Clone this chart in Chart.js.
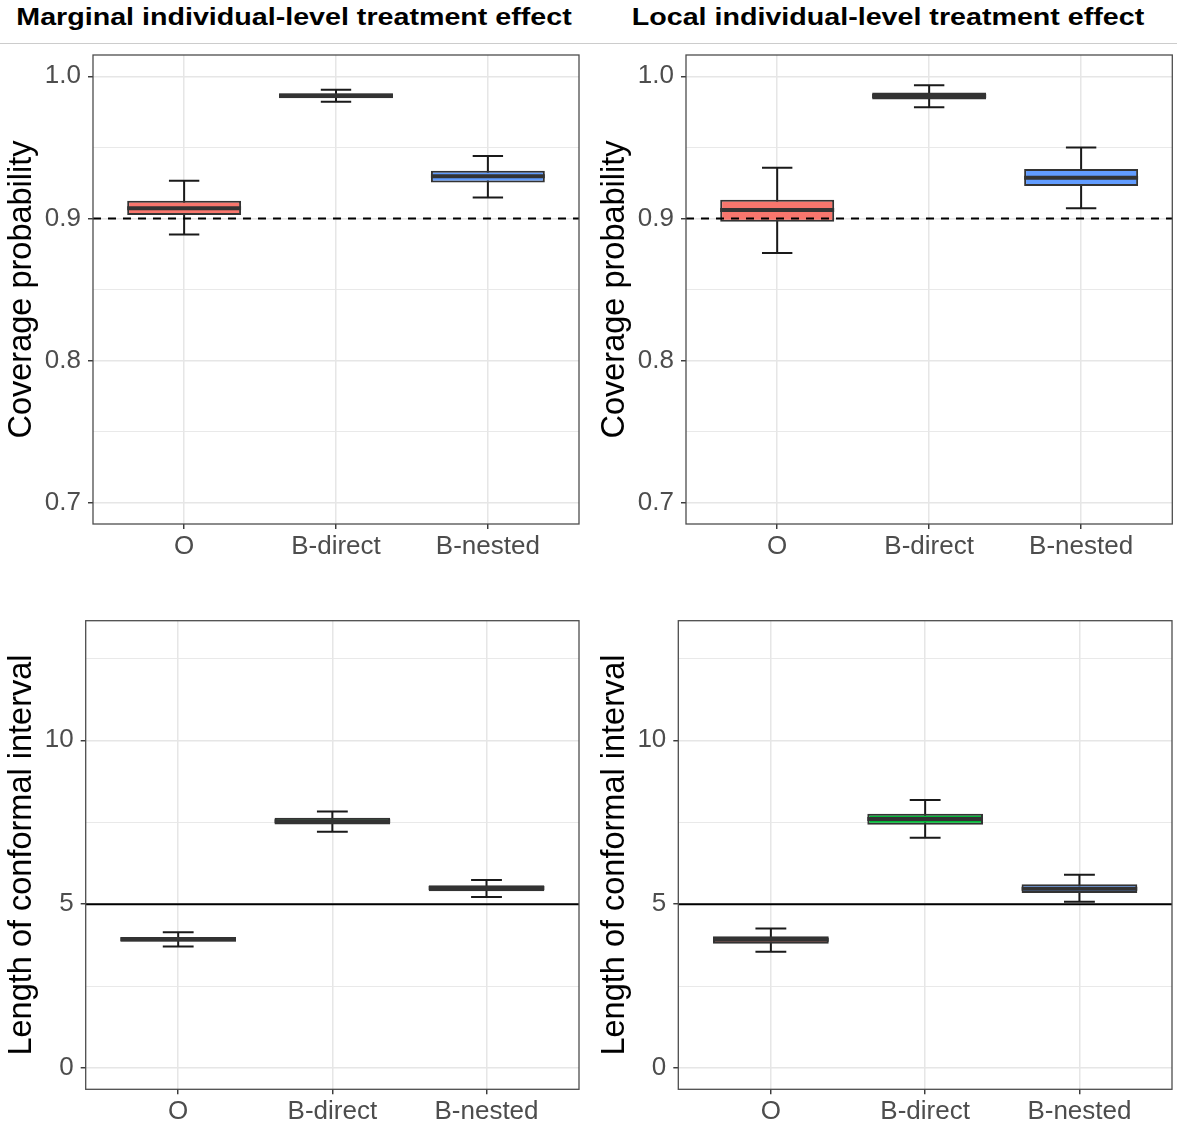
<!DOCTYPE html>
<html>
<head>
<meta charset="utf-8">
<script src="https://cdn.jsdelivr.net/npm/chart.js@4.4.1/dist/chart.umd.min.js"></script>
<style>
  body { margin: 0; background: #fff; width: 1177px; height: 1129px; position: relative; overflow: hidden;
         font-family: "Liberation Sans", Arial, sans-serif; }
  .head { position: absolute; top: 4.3px; font-weight: bold; font-size: 24.7px; line-height: 25px;
          transform: translateX(-50%) scaleX(1.16); white-space: nowrap; color: #000; }
  .rule { position: absolute; left: 0; top: 43px; width: 1177px; height: 1px; background: #cccccc; }
  .panel { position: absolute; }
</style>
</head>
<body>
<div class="head" style="left:294px">Marginal individual-level treatment effect</div>
<div class="head" style="left:888px">Local individual-level treatment effect</div>
<div class="rule"></div>
<div class="panel" style="left:0;top:44px;width:588px;height:536px"><canvas id="margCov"></canvas></div>
<div class="panel" style="left:588px;top:44px;width:589px;height:536px"><canvas id="locCov"></canvas></div>
<div class="panel" style="left:0;top:600px;width:588px;height:529px"><canvas id="margLen"></canvas></div>
<div class="panel" style="left:588px;top:600px;width:589px;height:529px"><canvas id="locLen"></canvas></div>
<script>
const categories = ['O', 'B-direct', 'B-nested'];
const boxColors = ['#F8766D', '#00BA38', '#619CFF'];

// coverage probability, marginal effect
const margCovLow  = [0.8887, 0.9821, 0.9148];
const margCovQ1   = [0.9025, 0.9846, 0.9253];
const margCovMed  = [0.9071, 0.9864, 0.9296];
const margCovQ3   = [0.9125, 0.9881, 0.9335];
const margCovHigh = [0.9265, 0.9905, 0.9440];

// coverage probability, local effect
const locCovLow  = [0.8756, 0.9783, 0.9071];
const locCovQ1   = [0.8976, 0.9837, 0.9228];
const locCovMed  = [0.9060, 0.9861, 0.9286];
const locCovQ3   = [0.9132, 0.9886, 0.9347];
const locCovHigh = [0.9356, 0.9937, 0.9499];

// interval length, marginal effect
const margLenLow  = [3.71, 7.21, 5.22];
const margLenQ1   = [3.85, 7.43, 5.39];
const margLenMed  = [3.93, 7.53, 5.49];
const margLenQ3   = [4.00, 7.64, 5.58];
const margLenHigh = [4.14, 7.83, 5.74];

// interval length, local effect
const locLenLow  = [3.55, 7.03, 5.07];
const locLenQ1   = [3.79, 7.42, 5.34];
const locLenMed  = [3.91, 7.60, 5.47];
const locLenQ3   = [4.02, 7.76, 5.61];
const locLenHigh = [4.26, 8.18, 5.90];

const coverageTicks = [0.7, 0.8, 0.9, 1.0];
const coverageTickLabels = ['0.7', '0.8', '0.9', '1.0'];
const coverageMinor = [0.75, 0.85, 0.95];
const coverageRange = [0.685, 1.015];
const coverageTarget = 0.9;

const lengthTicks = [0, 5, 10];
const lengthTickLabels = ['0', '5', '10'];
const lengthMinor = [2.5, 7.5, 12.5];
const lengthRange = [-0.65, 13.65];
const lengthRef = 5;

Chart.defaults.font.family = '"Liberation Sans", Arial, sans-serif';

const same = (a, b) => Math.abs(a - b) < 1e-9;

// whiskers under the boxes, medians / reference line / border on top
const boxExtras = {
    id: 'boxExtras',
    beforeDatasetsDraw(chart, args, o) {
        const { ctx, scales: { x, y } } = chart;
        const cap = (x.getPixelForValue(2) - x.getPixelForValue(1)) * 0.2;
        ctx.save();
        ctx.strokeStyle = '#1a1a1a';
        ctx.lineWidth = 2;
        o.low.forEach((lo, i) => {
            const px = x.getPixelForValue(i + 1);
            const yl = y.getPixelForValue(lo), yh = y.getPixelForValue(o.high[i]);
            ctx.beginPath();
            ctx.moveTo(px, yl); ctx.lineTo(px, yh);
            ctx.moveTo(px - cap / 2, yl); ctx.lineTo(px + cap / 2, yl);
            ctx.moveTo(px - cap / 2, yh); ctx.lineTo(px + cap / 2, yh);
            ctx.stroke();
        });
        ctx.restore();
    },
    afterDatasetsDraw(chart, args, o) {
        const { ctx, chartArea: a, scales: { y } } = chart;
        const bars = chart.getDatasetMeta(0).data;
        ctx.save();
        ctx.strokeStyle = '#333333';
        ctx.lineWidth = 4;
        bars.forEach((bar, i) => {
            const p = bar.getProps(['x', 'width'], true);
            const py = y.getPixelForValue(o.med[i]);
            ctx.beginPath();
            ctx.moveTo(p.x - p.width / 2, py); ctx.lineTo(p.x + p.width / 2, py);
            ctx.stroke();
        });
        const ry = y.getPixelForValue(o.refValue);
        ctx.strokeStyle = '#000';
        ctx.lineWidth = 2;
        ctx.setLineDash(o.refDash);
        ctx.beginPath();
        ctx.moveTo(a.left, ry); ctx.lineTo(a.right, ry);
        ctx.stroke();
        ctx.setLineDash([]);
        ctx.strokeStyle = '#4d4d4d';
        ctx.lineWidth = 1.3;
        ctx.strokeRect(a.left, a.top, a.right - a.left, a.bottom - a.top);
        ctx.restore();
    }
};

function makePanel(id, p) {
    const isMajor = v => p.ticks.some(t => same(t, v));
    new Chart(document.getElementById(id), {
        type: 'bar',
        data: {
            datasets: [{
                data: categories.map((c, i) => ({ x: i + 1, y: [p.q1[i], p.q3[i]] })),
                backgroundColor: boxColors,
                borderColor: '#333333',
                borderWidth: 2,
                borderSkipped: false,
                barPercentage: 0.75,
                categoryPercentage: 1
            }]
        },
        options: {
            responsive: true,
            maintainAspectRatio: false,
            animation: false,
            layout: { padding: p.pad },
            plugins: {
                legend: { display: false },
                tooltip: { enabled: false },
                boxExtras: { low: p.low, med: p.med, high: p.high, refValue: p.refValue, refDash: p.refDash }
            },
            scales: {
                x: {
                    type: 'linear', min: 0.4, max: 3.6, offset: false,
                    afterBuildTicks: s => { s.ticks = categories.map((c, i) => ({ value: i + 1 })); },
                    afterFit: s => { s.height = p.xHeight; s.paddingLeft = 0; s.paddingRight = 0; },
                    ticks: { callback: v => categories[v - 1], font: { size: 26 }, color: '#4d4d4d',
                             padding: 2, autoSkip: false, maxRotation: 0 },
                    grid: { offset: false, color: '#e6e6e6', lineWidth: 1.5, tickLength: 5,
                            tickColor: '#333333', tickWidth: 1.4 },
                    border: { display: false }
                },
                y: {
                    min: p.range[0], max: p.range[1],
                    afterBuildTicks: s => {
                        s.ticks = p.ticks.concat(p.minor).sort((a, b) => a - b).map(v => ({ value: v }));
                    },
                    afterFit: s => { s.width = p.yWidth; s.paddingTop = 0; s.paddingBottom = 0; },
                    ticks: {
                        callback: v => {
                            const k = p.ticks.findIndex(t => same(t, v));
                            return k < 0 ? '' : p.tickLabels[k];
                        },
                        font: { size: 26 }, color: '#4d4d4d', padding: 7, autoSkip: false
                    },
                    grid: {
                        color: '#e6e6e6',
                        lineWidth: c => (c.tick && !isMajor(c.tick.value)) ? 0.9 : 1.5,
                        tickLength: 5,
                        tickColor: c => (c.tick && isMajor(c.tick.value)) ? '#333333' : 'rgba(0,0,0,0)',
                        tickWidth: 1.4
                    },
                    border: { display: false },
                    title: { display: true, text: p.yTitle, font: { size: 32.5 }, color: '#000',
                             padding: { top: p.titlePad, bottom: 0 } }
                }
            }
        },
        plugins: [boxExtras]
    });
}

makePanel('margCov', {
    low: margCovLow, q1: margCovQ1, med: margCovMed, q3: margCovQ3, high: margCovHigh,
    ticks: coverageTicks, tickLabels: coverageTickLabels, minor: coverageMinor, range: coverageRange,
    refValue: coverageTarget, refDash: [8, 7], yTitle: 'Coverage probability',
    yWidth: 93, xHeight: 56, pad: { top: 11, right: 9, left: 0, bottom: 0 }, titlePad: 2.5
});
makePanel('locCov', {
    low: locCovLow, q1: locCovQ1, med: locCovMed, q3: locCovQ3, high: locCovHigh,
    ticks: coverageTicks, tickLabels: coverageTickLabels, minor: coverageMinor, range: coverageRange,
    refValue: coverageTarget, refDash: [8, 7], yTitle: 'Coverage probability',
    yWidth: 98, xHeight: 56, pad: { top: 11, right: 4.7, left: 0, bottom: 0 }, titlePad: 7.5
});
makePanel('margLen', {
    low: margLenLow, q1: margLenQ1, med: margLenMed, q3: margLenQ3, high: margLenHigh,
    ticks: lengthTicks, tickLabels: lengthTickLabels, minor: lengthMinor, range: lengthRange,
    refValue: lengthRef, refDash: [], yTitle: 'Length of conformal interval',
    yWidth: 85.7, xHeight: 39.7, pad: { top: 20.7, right: 9, left: 0, bottom: 0 }, titlePad: 2.5
});
makePanel('locLen', {
    low: locLenLow, q1: locLenQ1, med: locLenMed, q3: locLenQ3, high: locLenHigh,
    ticks: lengthTicks, tickLabels: lengthTickLabels, minor: lengthMinor, range: lengthRange,
    refValue: lengthRef, refDash: [], yTitle: 'Length of conformal interval',
    yWidth: 90.3, xHeight: 39.7, pad: { top: 20.7, right: 5, left: 0, bottom: 0 }, titlePad: 7.5
});
</script>
</body>
</html>
